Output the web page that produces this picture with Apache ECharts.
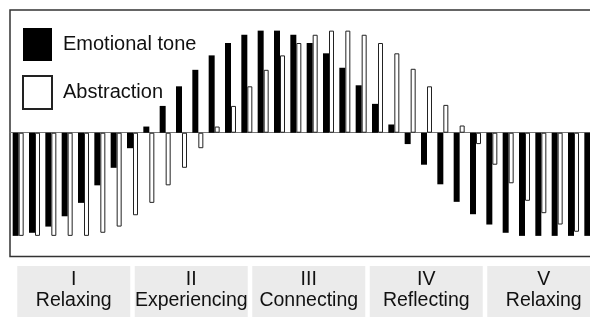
<!DOCTYPE html>
<html>
<head>
<meta charset="utf-8">
<script src="https://cdn.jsdelivr.net/npm/echarts@6/dist/echarts.min.js"></script>
<style>
  html, body { margin: 0; padding: 0; background: #fff; }
  #chart { width: 590px; height: 317px; }
</style>
</head>
<body>
<div id="chart"></div>
<script>
// segments along the session (36 visible pairs)
const segments = Array.from({ length: 36 }, (_, i) => String(i + 1));

// values (100 = full deflection)
const emotionalTone = [
  -100, -97, -91, -81, -68, -51, -34, -15, 6, 26, 45, 61,
  75, 87, 95, 99, 99, 95, 87, 77, 63, 46, 28, 8,
  -11, -31, -50, -67, -79, -89, -97, -100, -100, -100, -100, -100
];
const abstraction = [
  -100, -100, -100, -100, -100, -97, -91, -80, -68, -51, -34, -15,
  6, 26, 45, 61, 75, 87, 95, 99, 99, 95, 87, 77,
  62, 45, 27, 7, -11, -31, -49, -66, -78, -89, -96, -100
];

// phases shown under the chart
const phaseNumerals = ['I', 'II', 'III', 'IV', 'V'];
const phaseNames = ['Relaxing', 'Experiencing', 'Connecting', 'Reflecting', 'Relaxing'];

const FONT = '"Liberation Sans", Arial, Helvetica, sans-serif';

const chart = echarts.init(document.getElementById('chart'), null, { renderer: 'canvas' });

const option = {
  animation: false,
  backgroundColor: '#fff',
  legend: {
    orient: 'vertical',
    left: 22,
    top: 28,
    padding: 0,
    itemWidth: 29,
    itemHeight: 33,
    itemGap: 14,
    icon: 'rect',
    data: ['Emotional tone', 'Abstraction'],
    textStyle: {
      fontFamily: FONT,
      fontSize: 20,
      color: '#111',
      padding: [0, 0, 0, 6]
    }
  },
  grid: [
    {
      left: 10,
      width: 588,
      top: 10,
      height: 246.5,
      outerBoundsMode: 'none',
      show: true,
      borderColor: '#333',
      borderWidth: 1.5,
      backgroundColor: 'transparent'
    },
    {
      left: 15,
      width: 587.5,
      top: 266,
      height: 60,
      outerBoundsMode: 'none'
    }
  ],
  xAxis: [
    {
      gridIndex: 0,
      type: 'category',
      data: segments,
      axisLine: { onZero: true, lineStyle: { color: '#777', width: 1 } },
      axisTick: { show: false },
      axisLabel: { show: false },
      splitLine: { show: false }
    },
    {
      gridIndex: 1,
      type: 'category',
      data: phaseNames,
      axisLine: { show: false },
      axisTick: { show: false },
      axisLabel: { show: false }
    }
  ],
  yAxis: [
    {
      gridIndex: 0,
      type: 'value',
      min: -120,
      max: 119,
      axisLine: { show: false },
      axisTick: { show: false },
      axisLabel: { show: false },
      splitLine: { show: false }
    },
    {
      gridIndex: 1,
      type: 'value',
      min: 0,
      max: 1,
      show: false
    }
  ],
  series: [
    {
      name: 'Emotional tone',
      type: 'bar',
      xAxisIndex: 0,
      yAxisIndex: 0,
      data: emotionalTone,
      barWidth: 6,
      barGap: '0%',
      itemStyle: { color: '#000' }
    },
    {
      name: 'Abstraction',
      type: 'bar',
      xAxisIndex: 0,
      yAxisIndex: 0,
      data: abstraction,
      barWidth: 5,
      barGap: '0%',
      itemStyle: { color: '#fff', borderColor: '#222', borderWidth: 1 }
    },
    {
      name: 'phases',
      type: 'bar',
      xAxisIndex: 1,
      yAxisIndex: 1,
      data: phaseNames.map(() => 1),
      barWidth: 113,
      silent: true,
      itemStyle: { color: '#ebebeb' },
      label: {
        show: true,
        position: 'insideTop',
        distance: 3,
        fontFamily: FONT,
        fontSize: 19.5,
        lineHeight: 21,
        color: '#111',
        formatter: (p) => phaseNumerals[p.dataIndex] + '\n' + phaseNames[p.dataIndex]
      }
    }
  ]
};

chart.setOption(option);
</script>
</body>
</html>
